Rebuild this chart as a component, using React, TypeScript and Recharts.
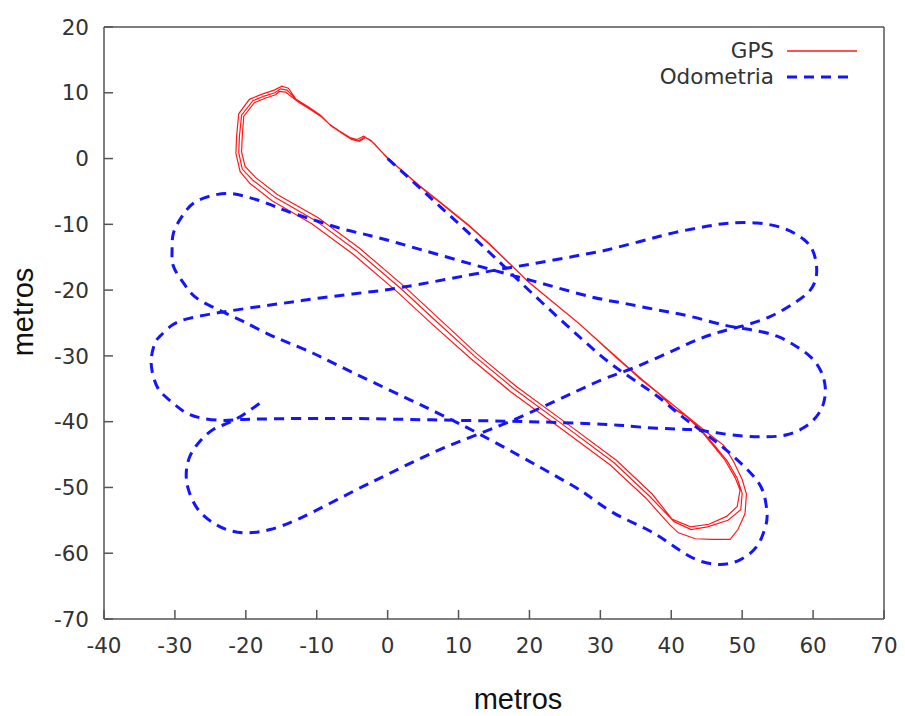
import { LineChart, Line, XAxis, YAxis, Legend, Label } from "recharts";

// axis ticks
const xTicks = [-40, -30, -20, -10, 0, 10, 20, 30, 40, 50, 60, 70];
const yTicks = [-70, -60, -50, -40, -30, -20, -10, 0, 10, 20];

// GPS: three laps round the same track
const gpsLap1: [number, number][] = [
	[0, 0], [4.6, -4.2], [8.1, -7.2], [11.2, -9.9], [14.2, -12.8], [19.9, -18.8], [26.9, -25.0],
	[32.6, -30.5], [36.0, -33.7], [39.4, -36.7], [42.7, -39.6], [45.0, -41.6], [47.4, -43.6],
	[48.8, -46.1], [50.0, -48.8], [50.6, -51.0], [50.4, -54.0], [49.4, -56.4], [48.3, -57.9],
	[45.7, -57.9], [43.4, -57.8], [41.0, -56.9], [39.8, -55.7], [36.4, -51.6], [31.4, -46.6],
	[24.4, -41.0], [17.3, -35.4], [11.7, -30.4], [6.0, -24.9], [1.4, -20.3], [-4.9, -14.5],
	[-10.7, -9.9], [-16.3, -6.4], [-19.4, -3.8], [-20.8, -2.0], [-21.4, 0.8], [-21.3, 3.4],
	[-21.0, 6.8], [-19.5, 9.0], [-17.7, 9.8], [-16.0, 10.4], [-14.9, 11.0], [-14.0, 10.7],
	[-12.9, 9.0], [-11.1, 7.8], [-9.6, 6.7], [-8.2, 5.2], [-6.8, 4.2], [-5.3, 3.2], [-4.3, 2.9],
	[-3.4, 3.4], [-2.3, 2.7], [-1.1, 1.3], [0.2, -0.1],
];
const gpsLap2: [number, number][] = [
	[4.7, -4.3], [8.2, -7.4], [11.4, -10.2], [14.3, -13.0], [20.0, -18.9], [27.0, -25.1],
	[32.7, -30.7], [35.8, -33.6], [38.6, -36.0], [40.5, -38.2], [42.3, -39.3], [44.2, -41.2],
	[46.1, -43.6], [47.9, -46.0], [49.3, -48.6], [50.0, -50.9], [49.8, -53.4], [48.0, -55.0],
	[45.1, -56.0], [42.8, -56.4], [40.4, -55.2], [36.9, -51.3], [31.9, -46.2], [24.9, -40.6],
	[17.8, -35.0], [12.2, -30.0], [6.5, -24.4], [1.9, -19.8], [-4.4, -14.0], [-10.2, -9.4],
	[-15.9, -5.9], [-19.0, -3.3], [-20.5, -1.6], [-21.0, 0.9], [-20.9, 3.4], [-20.6, 6.6],
	[-19.0, 8.8], [-17.4, 9.5], [-15.9, 10.0], [-15.1, 10.6], [-14.2, 10.4], [-12.7, 8.8],
	[-10.9, 7.6], [-9.4, 6.5], [-8.0, 5.0], [-6.6, 4.0], [-5.2, 3.0], [-4.1, 2.7], [-3.2, 3.3],
	[-2.1, 2.5], [-1.0, 1.2], [0.1, 0.0],
];
const gpsLap3: [number, number][] = [
	[4.5, -4.2], [8.0, -7.2], [11.3, -10.0], [14.1, -12.7], [19.8, -18.7], [26.8, -24.9],
	[32.5, -30.4], [35.5, -33.4], [38.3, -35.8], [40.2, -37.9], [41.9, -39.0], [43.9, -41.0],
	[45.8, -43.5], [47.6, -45.9], [49.0, -48.5], [49.7, -50.4], [49.3, -52.9], [47.8, -54.4],
	[45.3, -55.6], [42.7, -56.0], [40.1, -54.8], [37.3, -51.0], [32.3, -45.9], [25.3, -40.3],
	[18.2, -34.7], [12.6, -29.7], [6.9, -24.0], [2.3, -19.4], [-4.0, -13.6], [-9.8, -9.0],
	[-15.5, -5.5], [-18.6, -2.9], [-20.1, -1.2], [-20.6, 1.0], [-20.5, 3.4], [-20.3, 6.4],
	[-18.8, 8.5], [-17.2, 9.2], [-15.8, 9.7], [-15.3, 10.2], [-14.4, 10.1], [-12.6, 8.6],
	[-10.8, 7.4], [-9.3, 6.3], [-7.9, 4.9], [-6.5, 3.9], [-5.1, 2.9], [-4.0, 2.6], [-3.1, 3.2],
	[-2.0, 2.4], [-0.9, 1.1], [0, 0],
];

// odometry, drifting heading, cut into legs
const odoLeg1: [number, number][] = [
	[0, 0], [7.4, -7.3], [14, -13.9], [20, -20.1], [28.6, -28.6], [33.3, -32.6], [38.0, -36.1],
	[41.5, -39.2], [46.0, -42.8], [49.3, -45.8], [51.6, -48.3], [53.0, -50.8], [53.5, -53.9],
	[53.3, -55.9], [52.1, -58.9], [49.7, -61.0], [46.9, -61.7], [43.6, -61.0], [40.3, -58.9],
	[36.6, -56.4], [31.9, -53.9], [28.1, -51.1], [23.6, -48.2], [12.8, -41.8], [3.0, -36.6],
	[-6.7, -31.6], [-10.5, -29.6], [-13.8, -28.1], [-17.0, -26.6], [-20.3, -24.8], [-22.5, -23.7],
	[-24.8, -22.5], [-27.2, -21.0], [-28.8, -18.9],
];
const odoLeg2: [number, number][] = [
	[-30.2, -16.4], [-30.4, -13.9], [-30.2, -11.3], [-29.0, -8.8], [-27.4, -6.8], [-25.0, -5.7],
	[-22.5, -5.3], [-19.9, -5.8], [-17.0, -6.8], [-14.2, -8.0], [-10.5, -9.3], [-6.7, -10.6],
	[-2.9, -11.6], [1.3, -12.8], [8.1, -14.9], [15, -17.0], [21.5, -18.9], [28.6, -21.0],
	[33.3, -22.0], [38.0, -23.0], [42.7, -24.0], [47.4, -25.3], [51.1, -26.0], [54.9, -27.0],
	[57.7, -28.6], [59.6, -30.1], [61.0, -32.1], [61.7, -34.6], [61.5, -37.1], [60.5, -39.2],
	[58.7, -40.9], [56.3, -42.0], [53.5, -42.3], [50.2, -42.2], [46.4, -41.7], [42.7, -41.2],
	[38.0, -41.0], [33.3, -40.6], [28.6, -40.3], [20, -40.0], [10, -39.8], [0, -39.6],
	[-10, -39.5], [-18, -39.6],
];
const odoLeg3: [number, number][] = [
	[-21.3, -39.7], [-23.5, -39.8], [-26.5, -39.4], [-28.8, -38.4], [-30.9, -36.6], [-32.4, -34.9],
	[-33.2, -32.4], [-33.3, -30.1], [-32.8, -28.0], [-32.1, -27.0], [-30.2, -25.2], [-27.6, -24.2],
	[-24.8, -23.6], [-22.5, -23.2], [-19.4, -22.7], [-16.1, -22.2], [-12.8, -21.7], [-9.5, -21.2],
	[-5.8, -20.7], [-2.0, -20.2], [0.8, -19.8], [8.1, -18.4], [15, -17.0], [21.5, -15.8],
	[28.6, -14.4], [30.9, -13.9], [35.6, -12.6], [40.3, -11.3], [45.0, -10.3], [48.3, -9.8],
	[52.1, -9.8], [55.8, -10.6], [58.7, -12.3], [60.1, -14.4], [60.5, -17.4], [59.6, -20.0],
	[57.3, -22.0], [54.0, -24.0], [50.2, -25.4], [46.4, -26.5], [42.7, -28.0], [38.0, -30.3],
	[33.3, -32.4], [28.6, -34.4], [17.6, -39.8], [8.1, -43.9], [0.4, -47.8], [-3.4, -49.8],
	[-8.1, -52.4], [-12.8, -54.9], [-16.6, -56.4],
];
const odoLeg4: [number, number][] = [
	[-19.9, -56.9], [-22.7, -56.4], [-25.0, -55.1], [-26.9, -53.1], [-28.1, -50.3], [-28.4, -47.8],
	[-27.9, -45.3], [-26.5, -43.0], [-24.6, -41.2], [-22.5, -40.2], [-20.3, -38.9], [-17.5, -36.8],
];

const toPoints = (pts: [number, number][]) => pts.map(([x, y]) => ({ x, y }));
const gpsTrack = toPoints([...gpsLap1, ...gpsLap2, ...gpsLap3]);
const odoTrack = toPoints([...odoLeg1, ...odoLeg2, ...odoLeg3, ...odoLeg4]);

const FONT = "'DejaVu Sans', sans-serif";
const frame = { stroke: "#555", strokeWidth: 1.5 };
const tickStyle = { fill: "#333", fontSize: 21.5, fontFamily: FONT };

function LegendBox({ payload }: any) {
	return (
		<div style={{ fontFamily: FONT, fontSize: 21.5, color: "#333" }}>
			{(payload || []).map((entry: any) => (
				<div
					key={entry.value}
					style={{ display: "flex", alignItems: "center", height: 26 }}
				>
					<span style={{ width: 134, textAlign: "right", lineHeight: "26px" }}>
						{entry.value}
					</span>
					<svg width={72} height={10} style={{ marginLeft: 13 }}>
						<line
							x1={0}
							y1={5}
							x2={entry.payload?.strokeDasharray ? 66 : 70}
							y2={5}
							stroke={entry.color}
							strokeWidth={entry.payload?.strokeDasharray ? 3 : 1.5}
							strokeDasharray={entry.payload?.strokeDasharray}
						/>
					</svg>
				</div>
			))}
		</div>
	);
}

function XTitle({ viewBox }: any) {
	const cx = viewBox.x + viewBox.width / 2 + 24;
	return (
		<text x={cx} y={viewBox.y + 90} textAnchor="middle" fill="#111" fontSize={29} fontFamily="'Liberation Sans', Arial, sans-serif">
			metros
		</text>
	);
}

function YTitle({ viewBox }: any) {
	const cx = viewBox.x - 10.7;
	const cy = viewBox.y + viewBox.height / 2 - 11;
	return (
		<text x={cx} y={cy} transform={`rotate(-90, ${cx}, ${cy})`} textAnchor="middle" fill="#111" fontSize={29} fontFamily="'Liberation Sans', Arial, sans-serif">
			metros
		</text>
	);
}

export default function App() {
	return (
		<div style={{ position: "absolute", left: 0, top: 0, background: "#fff" }}>
			<LineChart
				width={905}
				height={716}
				margin={{ top: 26, right: 20, bottom: 67, left: 44 }}
			>
				<XAxis
					dataKey="x"
					type="number"
					domain={[-40, 70]}
					ticks={xTicks}
					interval={0}
					allowDataOverflow
					height={30}
					axisLine={frame}
					tickLine={frame}
					tickSize={-9}
					tickMargin={28}
					tick={tickStyle}
				>
					<Label content={XTitle} />
				</XAxis>
				{/* mirrored frame: top and right axes, ticks only */}
				<XAxis
					xAxisId="top"
					orientation="top"
					dataKey="x"
					type="number"
					domain={[-40, 70]}
					ticks={xTicks}
					interval={0}
					allowDataOverflow
					height={1}
					axisLine={frame}
					tickLine={frame}
					tickSize={-9}
					tick={false}
				/>
				<YAxis
					dataKey="y"
					type="number"
					domain={[-70, 20]}
					ticks={yTicks}
					interval={0}
					allowDataOverflow
					width={60}
					axisLine={frame}
					tickLine={frame}
					tickSize={-9}
					tickMargin={24}
					tick={tickStyle}
				>
					<Label content={YTitle} />
				</YAxis>
				<YAxis
					yAxisId="right"
					orientation="right"
					dataKey="y"
					type="number"
					domain={[-70, 20]}
					ticks={yTicks}
					interval={0}
					allowDataOverflow
					width={1}
					axisLine={frame}
					tickLine={frame}
					tickSize={-9}
					tick={false}
				/>
				<Legend
					layout="horizontal"
					verticalAlign="middle"
					align="center"
					content={LegendBox}
					wrapperStyle={{ position: "absolute", left: 640, top: 37.5, width: 230, right: "auto", bottom: "auto" }}
				/>
				<Line
					data={gpsTrack}
					dataKey="y"
					name="GPS"
					type="linear"
					stroke="#ff1a1a"
					strokeWidth={1.2}
					dot={false}
					activeDot={false}
					isAnimationActive={false}
				/>
				<Line
					data={odoTrack}
					dataKey="y"
					name="Odometria"
					type="natural"
					stroke="#1414ff"
					strokeWidth={3}
					strokeDasharray="10 7"
					dot={false}
					activeDot={false}
					isAnimationActive={false}
				/>
			</LineChart>
		</div>
	);
}
